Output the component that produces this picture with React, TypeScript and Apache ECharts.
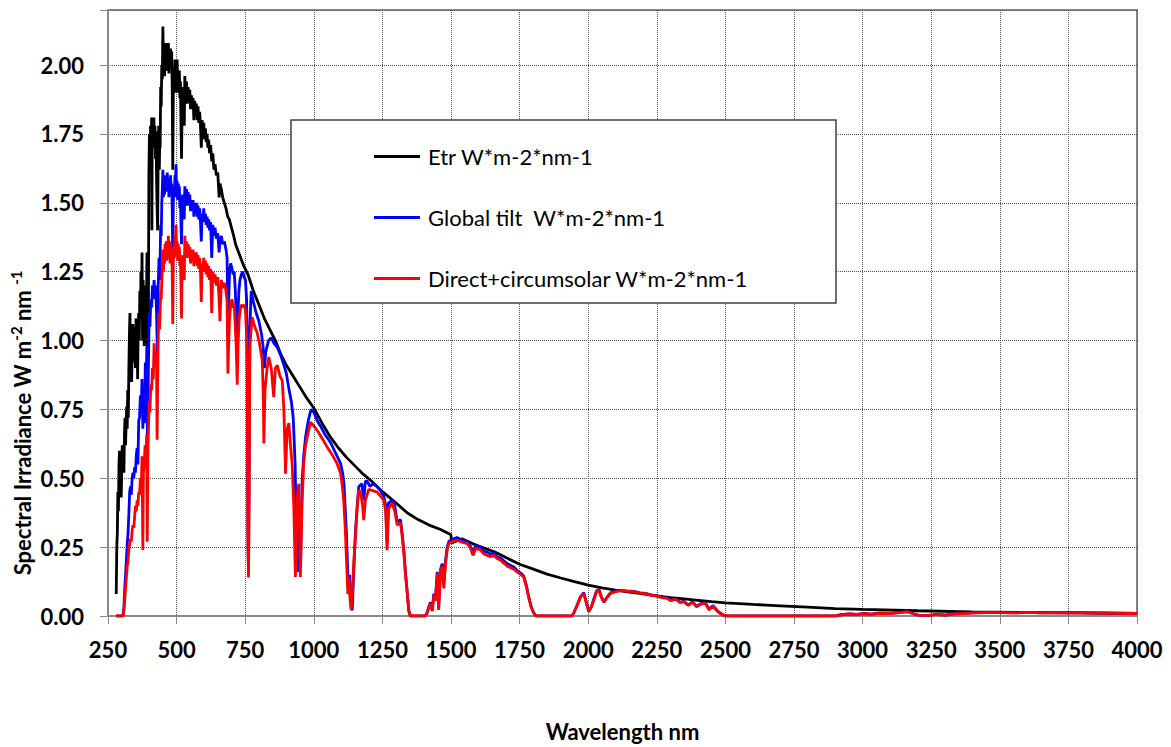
import React, { useEffect, useRef } from "react";
import * as echarts from "echarts";

const FONT = "Lato, 'Open Sans', 'DejaVu Sans', sans-serif";

const xTickStep = 250;
const yTickStep = 0.25;
const xTitle = "Wavelength nm";
const seriesNames = ["Etr W*m-2*nm-1", "Global tilt  W*m-2*nm-1", "Direct+circumsolar W*m-2*nm-1"];
const seriesColors = ["#000000", "#0000ff", "#ff0000"];

// Extraterrestrial (black)
const etrWl = [280, 282, 284, 286, 288, 290, 292, 294, 296, 298, 300, 302, 304, 306, 308, 310, 312, 314, 316, 318, 320, 322, 324, 326, 328, 330, 332, 334, 336, 338, 340, 342, 344, 346, 348, 350, 352, 354, 356, 358, 360, 362, 364, 366, 368, 370, 372, 374, 376, 378, 380, 382, 384, 386, 388, 390, 392, 393, 395, 397, 399, 401, 403, 405, 407, 409, 410, 411, 413, 415, 417, 419, 421, 423, 425, 427, 429, 431, 433, 435, 437, 439, 440, 442, 444, 446, 448, 450, 452, 454, 456, 458, 460, 462, 464, 466, 468, 470, 472, 474, 476, 478, 480, 482, 484, 486, 488, 490, 492, 494, 496, 498, 500, 502, 504, 506, 508, 510, 512, 514, 516, 518, 520, 522, 524, 526, 528, 530, 533, 536, 539, 542, 545, 548, 551, 554, 557, 560, 563, 566, 569, 572, 575, 578, 581, 584, 587, 590, 593, 596, 599, 602, 605, 608, 611, 614, 617, 620, 624, 628, 632, 636, 640, 645, 650, 655, 658, 663, 668, 674, 680, 686, 692, 700, 708, 715, 730, 745, 760, 780, 800, 820, 840, 860, 880, 900, 925, 950, 975, 1000, 1030, 1060, 1090, 1120, 1150, 1180, 1210, 1240, 1270, 1300, 1340, 1380, 1420, 1460, 1500, 1502, 1540, 1580, 1620, 1660, 1700, 1750, 1800, 1850, 1900, 1950, 2000, 2050, 2100, 2150, 2200, 2250, 2300, 2350, 2400, 2450, 2500, 2600, 2700, 2800, 2900, 3000, 3200, 3400, 3600, 3800, 4000];
const etrVal = [0.08, 0.25, 0.3, 0.45, 0.38, 0.55, 0.6, 0.5, 0.58, 0.43, 0.52, 0.62, 0.55, 0.62, 0.52, 0.66, 0.72, 0.62, 0.7, 0.76, 0.68, 0.82, 0.72, 0.9, 1.02, 1.1, 0.96, 1.05, 0.85, 0.95, 1.06, 0.92, 1.02, 0.95, 1.05, 0.9, 1.08, 0.98, 1.02, 0.86, 1.05, 1.1, 1.0, 1.18, 1.08, 1.25, 1.1, 1.32, 1.0, 1.22, 1.1, 0.98, 1.15, 1.05, 1.2, 1.1, 1.32, 0.9, 1.25, 1.05, 1.6, 1.75, 1.62, 1.78, 1.68, 1.81, 1.4, 1.72, 1.8, 1.73, 1.81, 1.7, 1.78, 1.66, 1.76, 1.58, 1.48, 1.4, 1.7, 1.78, 1.62, 1.75, 1.7, 1.92, 1.85, 2.0, 1.95, 2.14, 2.0, 2.08, 1.96, 2.07, 2.02, 2.08, 1.98, 2.06, 2.03, 2.08, 1.97, 2.04, 2.01, 2.06, 2.0, 2.05, 1.92, 1.62, 1.9, 1.98, 1.92, 2.02, 1.9, 1.98, 1.93, 2.02, 1.9, 1.97, 1.92, 1.98, 1.88, 1.94, 1.78, 1.66, 1.85, 1.92, 1.8, 1.88, 1.78, 1.96, 1.88, 1.94, 1.86, 1.92, 1.87, 1.91, 1.84, 1.89, 1.85, 1.88, 1.8, 1.87, 1.83, 1.86, 1.8, 1.85, 1.79, 1.83, 1.78, 1.7, 1.8, 1.76, 1.79, 1.73, 1.77, 1.72, 1.75, 1.7, 1.73, 1.68, 1.71, 1.65, 1.68, 1.62, 1.64, 1.6, 1.61, 1.52, 1.57, 1.55, 1.52, 1.5, 1.48, 1.45, 1.44, 1.41, 1.38, 1.35, 1.31, 1.27, 1.24, 1.18, 1.13, 1.08, 1.04, 1.0, 0.95, 0.91, 0.87, 0.83, 0.79, 0.755, 0.7, 0.65, 0.61, 0.575, 0.545, 0.515, 0.49, 0.46, 0.435, 0.41, 0.375, 0.35, 0.33, 0.315, 0.295, 0.265, 0.28, 0.262, 0.247, 0.232, 0.212, 0.188, 0.17, 0.152, 0.138, 0.125, 0.112, 0.102, 0.094, 0.087, 0.08, 0.073, 0.067, 0.062, 0.057, 0.052, 0.048, 0.042, 0.037, 0.032, 0.027, 0.024, 0.019, 0.015, 0.013, 0.011, 0.009];

// Global tilt (blue)
const globalWl = [280, 300, 305, 308, 311, 314, 317, 320, 323, 326, 329, 332, 335, 338, 341, 344, 347, 350, 353, 356, 359, 362, 365, 368, 371, 374, 377, 380, 383, 386, 389, 392, 394, 397, 400, 403, 406, 409, 412, 415, 418, 421, 424, 427, 430, 433, 436, 438, 440, 442, 444, 446, 448, 450, 452, 454, 456, 458, 460, 462, 464, 466, 468, 470, 472, 474, 476, 478, 480, 482, 484, 486, 488, 490, 492, 494, 496, 498, 500, 502, 504, 506, 508, 510, 512, 514, 516, 518, 520, 522, 524, 526, 528, 530, 533, 536, 539, 542, 545, 548, 551, 554, 557, 560, 563, 566, 569, 572, 575, 578, 581, 584, 587, 590, 593, 596, 599, 602, 605, 608, 611, 614, 617, 620, 624, 628, 632, 636, 640, 645, 650, 655, 658, 663, 668, 674, 680, 684, 687, 690, 693, 697, 702, 706, 710, 714, 717, 720, 723, 727, 731, 736, 741, 746, 751, 755, 758, 760, 762, 764, 767, 772, 780, 790, 800, 810, 815, 820, 825, 835, 845, 855, 867, 878, 890, 900, 910, 918, 925, 932, 936, 940, 944, 948, 952, 957, 963, 970, 980, 990, 1000, 1012, 1024, 1040, 1061, 1080, 1097, 1105, 1110, 1115, 1119, 1123, 1127, 1131, 1135, 1140, 1144, 1148, 1152, 1158, 1164, 1175, 1182, 1188, 1194, 1205, 1215, 1231, 1243, 1255, 1262, 1267, 1272, 1285, 1295, 1304, 1316, 1322, 1328, 1334, 1340, 1346, 1352, 1405, 1412, 1418, 1425, 1432, 1437, 1443, 1450, 1455, 1462, 1468, 1474, 1480, 1486, 1492, 1498, 1510, 1522, 1540, 1559, 1570, 1580, 1590, 1607, 1620, 1632, 1644, 1656, 1668, 1680, 1705, 1729, 1741, 1755, 1765, 1775, 1783, 1792, 1802, 1810, 1940, 1947, 1960, 1972, 1984, 1993, 2002, 2012, 2020, 2030, 2039, 2048, 2057, 2066, 2081, 2100, 2117, 2140, 2166, 2190, 2210, 2227, 2250, 2270, 2288, 2300, 2320, 2335, 2348, 2365, 2380, 2395, 2410, 2427, 2440, 2455, 2470, 2485, 2500, 2900, 2920, 2950, 2980, 3000, 3030, 3060, 3100, 3130, 3162, 3180, 3200, 3240, 3270, 3300, 3330, 3360, 3400, 3450, 3500, 3550, 3600, 3650, 3700, 3800, 3900, 4000];
const globalVal = [0, 0, 0.005, 0.03, 0.1, 0.15, 0.2, 0.26, 0.3, 0.37, 0.45, 0.47, 0.44, 0.5, 0.52, 0.5, 0.54, 0.52, 0.58, 0.61, 0.55, 0.71, 0.72, 0.8, 0.75, 0.86, 0.68, 0.82, 0.7, 0.92, 0.85, 0.98, 0.6, 0.88, 1.1, 1.05, 1.15, 1.12, 1.2, 1.16, 1.22, 1.15, 1.2, 1.1, 0.95, 1.2, 1.3, 1.22, 1.3, 1.42, 1.38, 1.5, 1.55, 1.62, 1.52, 1.58, 1.53, 1.6, 1.55, 1.6, 1.54, 1.61, 1.56, 1.59, 1.52, 1.58, 1.55, 1.6, 1.54, 1.57, 1.48, 1.3, 1.5, 1.56, 1.52, 1.6, 1.58, 1.64, 1.52, 1.58, 1.51, 1.57, 1.53, 1.56, 1.48, 1.52, 1.42, 1.35, 1.48, 1.53, 1.45, 1.5, 1.44, 1.56, 1.5, 1.55, 1.49, 1.54, 1.5, 1.53, 1.47, 1.51, 1.48, 1.51, 1.45, 1.5, 1.47, 1.5, 1.45, 1.49, 1.44, 1.48, 1.43, 1.36, 1.46, 1.44, 1.48, 1.43, 1.46, 1.42, 1.45, 1.41, 1.44, 1.4, 1.43, 1.3, 1.42, 1.38, 1.41, 1.37, 1.39, 1.32, 1.36, 1.38, 1.35, 1.36, 1.33, 1.3, 1.05, 1.15, 1.25, 1.28, 1.26, 1.24, 1.25, 1.18, 1.1, 0.98, 1.08, 1.18, 1.22, 1.24, 1.25, 1.23, 1.22, 1.15, 0.95, 0.3, 0.16, 0.45, 1.05, 1.18, 1.14, 1.1, 1.07, 1.02, 0.98, 0.9, 0.96, 1.0, 1.01, 0.99, 0.975, 0.95, 0.915, 0.88, 0.82, 0.78, 0.72, 0.55, 0.3, 0.45, 0.16, 0.4, 0.2, 0.48, 0.58, 0.65, 0.71, 0.75, 0.74, 0.71, 0.69, 0.66, 0.63, 0.59, 0.555, 0.52, 0.48, 0.38, 0.3, 0.18, 0.09, 0.15, 0.04, 0.02, 0.12, 0.22, 0.31, 0.4, 0.47, 0.48, 0.42, 0.49, 0.49, 0.47, 0.48, 0.47, 0.455, 0.435, 0.4, 0.27, 0.41, 0.42, 0.4, 0.34, 0.35, 0.3, 0.24, 0.16, 0.09, 0.02, 0, 0, 0.01, 0.03, 0.05, 0.02, 0.08, 0.06, 0.16, 0.03, 0.17, 0.19, 0.12, 0.2, 0.25, 0.27, 0.275, 0.28, 0.285, 0.275, 0.27, 0.255, 0.23, 0.255, 0.25, 0.235, 0.232, 0.225, 0.23, 0.215, 0.21, 0.19, 0.178, 0.165, 0.155, 0.145, 0.11, 0.07, 0.035, 0.01, 0, 0, 0.01, 0.04, 0.07, 0.085, 0.05, 0.016, 0.035, 0.06, 0.09, 0.097, 0.07, 0.05, 0.065, 0.084, 0.09, 0.093, 0.091, 0.089, 0.084, 0.082, 0.077, 0.073, 0.068, 0.066, 0.058, 0.062, 0.05, 0.054, 0.04, 0.052, 0.035, 0.045, 0.048, 0.025, 0.038, 0.02, 0.008, 0, 0, 0.005, 0.008, 0.006, 0.009, 0.007, 0.01, 0.009, 0.012, 0.016, 0.01, 0.003, 0.002, 0.006, 0.003, 0.008, 0.009, 0.011, 0.012, 0.012, 0.011, 0.013, 0.011, 0.012, 0.011, 0.01, 0.009];

// Direct + circumsolar (red)
const directWl = [280, 305, 308, 311, 314, 317, 320, 323, 326, 329, 332, 335, 338, 341, 344, 347, 350, 353, 356, 359, 362, 365, 368, 371, 374, 377, 379, 382, 385, 388, 391, 393, 396, 400, 403, 406, 409, 412, 415, 418, 421, 424, 427, 429, 432, 435, 438, 440, 442, 444, 446, 448, 450, 452, 454, 456, 458, 460, 462, 464, 466, 468, 470, 472, 474, 476, 478, 480, 482, 484, 486, 488, 490, 492, 494, 496, 498, 500, 502, 504, 506, 508, 510, 512, 514, 516, 518, 520, 522, 524, 526, 528, 530, 533, 536, 539, 542, 545, 548, 551, 554, 557, 560, 563, 566, 569, 572, 575, 578, 581, 584, 587, 590, 593, 596, 599, 602, 605, 608, 611, 614, 617, 620, 624, 628, 632, 636, 640, 645, 650, 655, 658, 663, 668, 674, 680, 684, 687, 690, 693, 697, 702, 706, 710, 714, 717, 721, 724, 728, 733, 738, 742, 747, 751, 755, 757, 760, 762, 764, 767, 775, 785, 793, 802, 812, 816, 818, 822, 830, 836, 845, 854, 860, 867, 877, 885, 891, 897, 903, 909, 915, 921, 927, 933, 939, 945, 951, 957, 963, 970, 976, 988, 1000, 1012, 1030, 1049, 1067, 1085, 1097, 1103, 1109, 1115, 1120, 1124, 1128, 1132, 1136, 1141, 1146, 1152, 1158, 1164, 1172, 1178, 1182, 1188, 1200, 1215, 1231, 1243, 1255, 1262, 1267, 1273, 1285, 1295, 1304, 1316, 1322, 1328, 1334, 1340, 1346, 1352, 1405, 1412, 1418, 1425, 1432, 1437, 1443, 1450, 1455, 1462, 1468, 1474, 1480, 1486, 1492, 1498, 1510, 1522, 1540, 1559, 1570, 1580, 1590, 1607, 1620, 1632, 1644, 1656, 1668, 1680, 1705, 1729, 1741, 1755, 1765, 1775, 1783, 1792, 1802, 1810, 1940, 1947, 1960, 1972, 1984, 1993, 2002, 2012, 2020, 2030, 2039, 2048, 2057, 2066, 2081, 2100, 2117, 2140, 2166, 2190, 2210, 2227, 2250, 2270, 2288, 2300, 2320, 2335, 2348, 2365, 2380, 2395, 2410, 2427, 2440, 2455, 2470, 2485, 2500, 2910, 2930, 2955, 2980, 3005, 3035, 3065, 3100, 3135, 3162, 3185, 3205, 3240, 3275, 3305, 3335, 3365, 3405, 3455, 3505, 3555, 3605, 3655, 3705, 3805, 3905, 4000];
const directVal = [0, 0, 0.02, 0.06, 0.1, 0.14, 0.18, 0.2, 0.24, 0.26, 0.28, 0.27, 0.31, 0.33, 0.32, 0.36, 0.4, 0.38, 0.42, 0.4, 0.45, 0.44, 0.5, 0.45, 0.58, 0.24, 0.52, 0.55, 0.62, 0.58, 0.66, 0.27, 0.62, 0.78, 0.74, 0.84, 0.82, 0.9, 0.86, 0.99, 0.93, 0.96, 0.9, 0.64, 0.95, 1.1, 1.04, 1.1, 1.18, 1.15, 1.22, 1.26, 1.33, 1.25, 1.32, 1.28, 1.35, 1.3, 1.36, 1.29, 1.35, 1.31, 1.38, 1.3, 1.34, 1.28, 1.36, 1.31, 1.33, 1.25, 1.06, 1.28, 1.34, 1.3, 1.38, 1.35, 1.42, 1.31, 1.36, 1.29, 1.35, 1.31, 1.34, 1.27, 1.3, 1.2, 1.08, 1.26, 1.31, 1.24, 1.28, 1.22, 1.38, 1.31, 1.36, 1.3, 1.35, 1.31, 1.34, 1.28, 1.33, 1.3, 1.33, 1.27, 1.32, 1.29, 1.32, 1.27, 1.31, 1.26, 1.3, 1.25, 1.14, 1.28, 1.26, 1.3, 1.25, 1.29, 1.24, 1.28, 1.23, 1.27, 1.22, 1.26, 1.1, 1.25, 1.21, 1.24, 1.2, 1.23, 1.15, 1.07, 1.22, 1.19, 1.21, 1.18, 1.14, 0.88, 1.0, 1.08, 1.13, 1.15, 1.12, 1.13, 1.05, 0.98, 0.84, 0.98, 1.08, 1.12, 1.13, 1.12, 1.13, 1.11, 1.02, 0.9, 0.25, 0.14, 0.4, 0.98, 1.085, 1.05, 1.03, 0.99, 0.93, 0.8, 0.626, 0.82, 0.9, 0.94, 0.9, 0.795, 0.9, 0.91, 0.87, 0.855, 0.75, 0.517, 0.68, 0.7, 0.62, 0.553, 0.4, 0.142, 0.42, 0.48, 0.142, 0.4, 0.553, 0.62, 0.65, 0.704, 0.69, 0.674, 0.645, 0.613, 0.585, 0.553, 0.52, 0.48, 0.42, 0.31, 0.18, 0.08, 0.14, 0.06, 0.022, 0.09, 0.2, 0.29, 0.39, 0.46, 0.44, 0.4, 0.348, 0.42, 0.46, 0.455, 0.45, 0.435, 0.42, 0.38, 0.239, 0.39, 0.41, 0.38, 0.33, 0.34, 0.29, 0.23, 0.15, 0.09, 0.02, 0, 0, 0.008, 0.028, 0.045, 0.018, 0.075, 0.055, 0.155, 0.022, 0.165, 0.18, 0.1, 0.19, 0.24, 0.263, 0.268, 0.272, 0.275, 0.268, 0.263, 0.248, 0.22, 0.245, 0.24, 0.225, 0.22, 0.215, 0.22, 0.209, 0.203, 0.181, 0.17, 0.16, 0.15, 0.142, 0.105, 0.068, 0.032, 0.01, 0, 0, 0.01, 0.04, 0.07, 0.082, 0.048, 0.016, 0.033, 0.055, 0.088, 0.094, 0.068, 0.05, 0.063, 0.082, 0.088, 0.092, 0.09, 0.088, 0.083, 0.081, 0.076, 0.072, 0.067, 0.064, 0.056, 0.06, 0.048, 0.052, 0.038, 0.05, 0.033, 0.043, 0.046, 0.022, 0.036, 0.018, 0.006, 0, 0, 0.005, 0.008, 0.006, 0.009, 0.007, 0.01, 0.009, 0.012, 0.016, 0.009, 0.003, 0.002, 0.006, 0.003, 0.008, 0.009, 0.011, 0.012, 0.012, 0.011, 0.013, 0.011, 0.012, 0.011, 0.01, 0.009];

const pairs = (xs: number[], ys: number[]) => xs.map((x, i) => [x, ys[i]]);

export default function App() {
  const ref = useRef<HTMLDivElement>(null);
  useEffect(() => {
    if (!ref.current) return;
    const chart = echarts.init(ref.current, null, { renderer: "svg" });
    const labelStyle = { color: "#000", fontFamily: FONT, fontWeight: "bold" as const, fontSize: 22 };
    const gridLine = { show: true, lineStyle: { color: "#555", type: "dotted" as const, width: 1 } };
    const axisLine = { show: true, onZero: false, lineStyle: { color: "#898989", width: 2 } };
    const datasets = [pairs(etrWl, etrVal), pairs(globalWl, globalVal), pairs(directWl, directVal)];
    chart.setOption({
      animation: false,
      grid: { left: 108, right: 34, top: 10, bottom: 131, show: true, borderColor: "#898989", borderWidth: 2, backgroundColor: "transparent" },
      xAxis: {
        type: "value",
        min: 250,
        max: 4000,
        interval: xTickStep,
        axisLine,
        axisTick: { show: true, length: 8, lineStyle: { color: "#898989", width: 1 } },
        axisLabel: { ...labelStyle, margin: 22, formatter: (v: number) => String(v) },
        splitLine: gridLine,
        name: xTitle,
        nameLocation: "middle",
        nameGap: 104,
        nameTextStyle: { color: "#000", fontFamily: FONT, fontWeight: "bold", fontSize: 22 },
      },
      yAxis: {
        type: "value",
        min: 0,
        max: 2.2,
        interval: yTickStep,
        axisLine,
        axisTick: { show: true, length: 8, lineStyle: { color: "#898989", width: 1 } },
        axisLabel: {
          ...labelStyle,
          margin: 24,
          formatter: (v: number) => {
            const k = v / yTickStep;
            return Math.abs(k - Math.round(k)) < 1e-6 ? v.toFixed(2) : "";
          },
        },
        splitLine: gridLine,
      },
      legend: {
        show: true,
        orient: "vertical",
        left: 369,
        top: 140,
        icon: "rect",
        itemWidth: 46,
        itemHeight: 3,
        itemGap: 38,
        z: 8,
        data: seriesNames,
        textStyle: { color: "#000", fontFamily: FONT, fontSize: 22, lineHeight: 23, padding: [0, 0, 0, 3] },
      },
      graphic: [
        {
          type: "rect",
          z: 7,
          shape: { x: 291, y: 120, width: 545, height: 183 },
          style: { fill: "#fff", stroke: "#404040", lineWidth: 1.5 },
        },
        {
          type: "text",
          z: 7,
          x: 22,
          y: 423,
          rotation: Math.PI / 2,
          style: {
            text: "Spectral Irradiance W m{sup|-2} nm {sup|-1}",
            fill: "#000",
            fontFamily: FONT,
            fontWeight: "bold",
            fontSize: 22,
            lineHeight: 28,
            align: "center",
            verticalAlign: "middle",
            rich: {
              sup: { fill: "#000", fontFamily: FONT, fontWeight: "bold", fontSize: 15, lineHeight: 28, verticalAlign: "top" },
            },
          },
        },
      ],
      series: seriesNames.map((name, i) => ({
        name,
        type: "line",
        data: datasets[i],
        showSymbol: false,
        symbol: "none",
        silent: true,
        z: 2 + i,
        itemStyle: { color: seriesColors[i] },
        lineStyle: { color: seriesColors[i], width: 2.8 },
      })),
    });
    return () => chart.dispose();
  }, []);
  return <div ref={ref} style={{ position: "absolute", left: 0, top: 0, width: 1171, height: 747 }} />;
}
